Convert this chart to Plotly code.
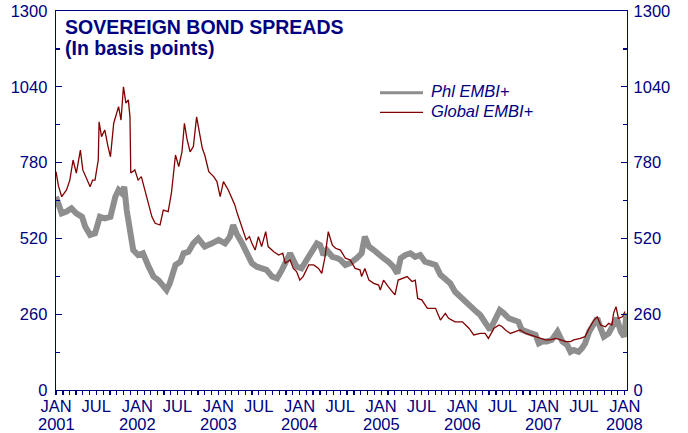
import pandas as pd
import plotly.graph_objects as go

# ---------------- data ----------------
series_names = ["Phl EMBI+", "Global EMBI+"]

# years elapsed since 1 Jan 2001
phl_t = [0.00, 0.04, 0.07, 0.13, 0.19, 0.25, 0.32, 0.36, 0.42, 0.48, 0.54, 0.60, 0.67,
         0.73, 0.77, 0.81, 0.84, 0.87, 0.91, 0.95, 1.01, 1.07, 1.14, 1.20, 1.26, 1.32,
         1.36, 1.40, 1.47, 1.53, 1.57, 1.63, 1.69, 1.75, 1.83, 1.92, 2.00, 2.08, 2.14,
         2.18, 2.22, 2.29, 2.35, 2.41, 2.47, 2.53, 2.59, 2.66, 2.72, 2.78, 2.84, 2.88,
         2.92, 2.96, 3.02, 3.09, 3.15, 3.21, 3.25, 3.29, 3.33, 3.40, 3.46, 3.50, 3.56,
         3.62, 3.70, 3.76, 3.80, 3.85, 3.91, 3.97, 4.03, 4.09, 4.15, 4.20, 4.24, 4.30,
         4.36, 4.42, 4.48, 4.54, 4.60, 4.67, 4.73, 4.79, 4.85, 4.91, 4.97, 5.04, 5.10,
         5.17, 5.22, 5.28, 5.34, 5.42, 5.46, 5.51, 5.57, 5.63, 5.69, 5.73, 5.80, 5.86,
         5.90, 5.94, 5.98, 6.04, 6.10, 6.17, 6.23, 6.29, 6.33, 6.37, 6.43, 6.47, 6.51,
         6.56, 6.62, 6.66, 6.70, 6.74, 6.80, 6.86, 6.90, 6.95, 6.99, 7.02]
phl_bp = [663, 635, 606, 612, 623, 606, 594, 560, 532, 537, 594, 589, 594,
          663, 686, 675, 697, 617, 537, 480, 463, 469, 423, 389, 377, 360,
          343, 366, 429, 440, 469, 474, 503, 520, 492, 503, 515, 503, 526,
          566, 537, 503, 474, 435, 423, 417, 412, 389, 383, 412, 446, 469,
          446, 423, 417, 452, 480, 503, 497, 463, 480, 457, 452, 446, 429,
          435, 452, 469, 526, 492, 480, 463, 452, 440, 423, 400, 452, 463,
          469, 457, 463, 440, 435, 429, 395, 377, 366, 337, 320, 303, 286,
          269, 257, 234, 206, 251, 274, 263, 246, 240, 234, 206, 200, 194,
          189, 160, 166, 166, 172, 200, 166, 154, 131, 137, 131, 143, 160,
          200, 229, 246, 212, 183, 194, 229, 246, 200, 183, 263]

glb_t = [0.00, 0.03, 0.07, 0.13, 0.17, 0.21, 0.25, 0.30, 0.33, 0.38, 0.42, 0.45, 0.48,
         0.52, 0.53, 0.56, 0.60, 0.64, 0.67, 0.71, 0.75, 0.77, 0.80, 0.83, 0.86, 0.89,
         0.91, 0.92, 0.97, 1.01, 1.05, 1.10, 1.14, 1.18, 1.22, 1.28, 1.32, 1.38, 1.42,
         1.45, 1.47, 1.51, 1.55, 1.58, 1.61, 1.65, 1.69, 1.73, 1.77, 1.80, 1.83, 1.88,
         1.94, 1.98, 2.02, 2.06, 2.12, 2.16, 2.20, 2.23, 2.27, 2.31, 2.34, 2.38, 2.41,
         2.45, 2.49, 2.53, 2.58, 2.61, 2.68, 2.74, 2.79, 2.82, 2.88, 2.92, 2.96, 3.00,
         3.04, 3.11, 3.17, 3.23, 3.27, 3.31, 3.35, 3.40, 3.44, 3.50, 3.56, 3.62, 3.68,
         3.74, 3.76, 3.80, 3.85, 3.91, 3.97, 3.99, 4.03, 4.09, 4.17, 4.21, 4.26, 4.32,
         4.38, 4.42, 4.45, 4.50, 4.57, 4.63, 4.67, 4.73, 4.79, 4.83, 4.91, 5.00, 5.08,
         5.14, 5.22, 5.28, 5.32, 5.39, 5.45, 5.49, 5.53, 5.59, 5.65, 5.71, 5.78, 5.84,
         5.90, 5.96, 6.02, 6.08, 6.15, 6.21, 6.27, 6.33, 6.37, 6.45, 6.51, 6.56, 6.62,
         6.66, 6.70, 6.76, 6.80, 6.84, 6.86, 6.89, 6.92, 6.97, 7.00]
glb_bp = [749, 700, 663, 686, 720, 789, 744, 823, 755, 720, 697, 720, 720,
          789, 920, 869, 892, 835, 800, 915, 960, 972, 926, 1040, 984, 995,
          937, 744, 755, 720, 732, 675, 640, 594, 572, 566, 617, 612, 675,
          744, 806, 766, 817, 915, 863, 817, 835, 937, 880, 829, 806, 749,
          732, 715, 663, 715, 686, 663, 635, 606, 572, 543, 515, 526, 503,
          480, 526, 492, 543, 492, 474, 463, 469, 435, 446, 417, 406, 377,
          389, 429, 429, 417, 400, 457, 543, 497, 486, 480, 452, 446, 417,
          412, 389, 417, 377, 366, 360, 343, 377, 354, 326, 377, 383, 389,
          372, 377, 314, 309, 280, 280, 280, 240, 263, 246, 234, 234, 212,
          189, 194, 194, 177, 212, 223, 217, 206, 194, 200, 206, 194, 189,
          183, 177, 172, 172, 177, 172, 166, 166, 172, 177, 183, 212, 240,
          251, 223, 217, 229, 223, 263, 286, 246, 251, 269]

y_ticks = [0, 260, 520, 780, 1040, 1300]
x_tick_dates = ["2001-01-01", "2001-07-01", "2002-01-01", "2002-07-01", "2003-01-01",
                "2003-07-01", "2004-01-01", "2004-07-01", "2005-01-01", "2005-07-01",
                "2006-01-01", "2006-07-01", "2007-01-01", "2007-07-01", "2008-01-01"]
x_tick_text = ["JAN", "JUL", "JAN", "JUL", "JAN", "JUL", "JAN", "JUL", "JAN", "JUL",
               "JAN", "JUL", "JAN", "JUL", "JAN"]
years = [2001, 2002, 2003, 2004, 2005, 2006, 2007, 2008]

title_lines = ["SOVEREIGN BOND SPREADS", "(In basis points)"]

# ---------------- styling ----------------
NAVY = "#000080"
GRAY = "#8e8e8e"
RED = "#800000"
FONT = "Liberation Sans, Arial, sans-serif"
W, H = 688, 433
L, R, T, B = 56, 61, 11, 43
PW, PH = W - L - R, H - T - B

base = pd.Timestamp("2001-01-01")


def to_dates(ts):
    return [base + pd.Timedelta(days=t * 365.25) for t in ts]


def px_x(px):
    return (px - L) / PW


def px_y(py):
    return (H - B - py) / PH


fig = go.Figure()
fig.add_trace(go.Scatter(x=to_dates(phl_t), y=phl_bp, name=series_names[0], mode="lines",
                         line=dict(color=GRAY, width=6), showlegend=False, yaxis="y"))
fig.add_trace(go.Scatter(x=to_dates(glb_t), y=glb_bp, name=series_names[1], mode="lines",
                         line=dict(color=RED, width=1.3), showlegend=False, yaxis="y2"))

yax = dict(range=[0, 1300], tickvals=y_ticks, ticks="inside", ticklen=6, tickwidth=1.2,
           tickcolor=NAVY, showline=True, linecolor=NAVY, linewidth=1.3, showgrid=False,
           zeroline=False, tickfont=dict(family=FONT, size=16.5, color=NAVY),
           minor=dict(dtick=130, tick0=0, ticks="inside", ticklen=4, tickcolor=NAVY,
                      tickwidth=1.2, showgrid=False),
           automargin=False, fixedrange=True)

fig.update_layout(
    width=W, height=H,
    margin=dict(l=L, r=R, t=T, b=B, autoexpand=False),
    paper_bgcolor="white", plot_bgcolor="white",
    font=dict(family=FONT, color=NAVY),
    xaxis=dict(type="date", range=[base, pd.Timestamp("2008-01-11")],
               tickvals=x_tick_dates, ticktext=x_tick_text, tickangle=0,
               ticks="outside", ticklen=4, tickwidth=1.2, tickcolor=NAVY,
               ticklabelstandoff=-3,
               showline=True, linecolor=NAVY, linewidth=1.3, mirror=True,
               showgrid=False, zeroline=False, automargin=False, fixedrange=True,
               tickfont=dict(family=FONT, size=16.5, color=NAVY),
               minor=dict(dtick="M1", tick0="2001-01-01", ticks="outside", ticklen=4,
                          tickwidth=1.2, tickcolor=NAVY, showgrid=False)),
    yaxis=dict(**yax, side="left", ticklabelstandoff=4),
    yaxis2=dict(**yax, side="right", overlaying="y", ticklabelstandoff=2),
    showlegend=False,
)

# year labels under the JAN ticks
for yr in years:
    fig.add_annotation(x=pd.Timestamp(f"{yr}-01-01"), xref="x", y=0, yref="paper",
                       yshift=-34, yanchor="middle", xanchor="center", showarrow=False,
                       text=str(yr), font=dict(family=FONT, size=16.5, color=NAVY))

# title
fig.add_annotation(x=px_x(63), xref="paper", y=1, yref="paper", yshift=-15.5,
                   xanchor="left", yanchor="middle", showarrow=False,
                   text=f"<b>{title_lines[0]}</b>",
                   font=dict(family=FONT, size=19.5, color=NAVY))
fig.add_annotation(x=px_x(63), xref="paper", y=1, yref="paper", yshift=-36.5,
                   xanchor="left", yanchor="middle", showarrow=False,
                   text=f"<b>{title_lines[1]}</b>",
                   font=dict(family=FONT, size=19.5, color=NAVY))

# legend (drawn manually)
legend_items = [(series_names[0], GRAY, 3, 92.7, 90.5),
                (series_names[1], RED, 1.3, 112.3, 110.5)]
for name, col, lw, ly, ty in legend_items:
    fig.add_shape(type="line", xref="paper", yref="paper",
                  x0=px_x(380), x1=px_x(423), y0=px_y(ly), y1=px_y(ly),
                  line=dict(color=col, width=lw))
    fig.add_annotation(x=px_x(429), xref="paper", y=px_y(ty), yref="paper",
                       xanchor="left", yanchor="middle", showarrow=False,
                       text=f"<i>{name}</i>",
                       font=dict(family=FONT, size=16.5, color=NAVY))

fig.write_html("out.html",
               config={"displayModeBar": False, "staticPlot": True},
               post_script="document.body.style.margin='0';"
                           "document.body.style.overflow='hidden';")
